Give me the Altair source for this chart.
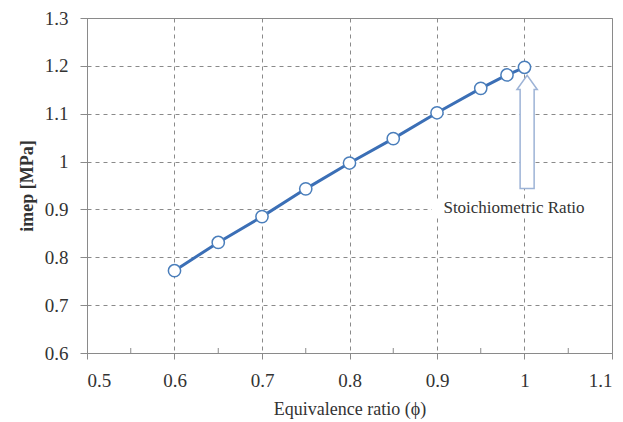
import altair as alt
import pandas as pd

phi = [0.6, 0.65, 0.7, 0.75, 0.8, 0.85, 0.9, 0.95, 0.98, 1.0]
imep = [0.772, 0.831, 0.885, 0.943, 0.997, 1.048, 1.102, 1.153, 1.181, 1.197]

minor_x = [0.55, 0.65, 0.75, 0.85, 0.95, 1.05]

arrow_x = [1.003]
arrow_y = [1.062]
note_x = [0.988]
note_y = [0.903]
note_text = ["Stoichiometric Ratio"]
note_box_x = [0.894]
note_box_x2 = [1.1]
note_box_y = [0.922]
note_box_y2 = [0.885]

df = pd.DataFrame({"phi": phi, "imep": imep})
minor_df = pd.DataFrame({"x": minor_x})
arrow_df = pd.DataFrame({"x": arrow_x, "y": arrow_y})
note_df = pd.DataFrame({"x": note_x, "y": note_y, "t": note_text})
box_df = pd.DataFrame({"x": note_box_x, "x2": note_box_x2, "y": note_box_y, "y2": note_box_y2})

W, H = 525, 335
FONT = "'Liberation Serif', 'Times New Roman', Times, 'DejaVu Serif', serif"
xs = alt.Scale(domain=[0.5, 1.1], nice=False, zero=False)
ys = alt.Scale(domain=[0.6, 1.3], nice=False, zero=False)

xax = alt.Axis(values=[0.5, 0.6, 0.7, 0.8, 0.9, 1.0, 1.1], labelExpr="datum.value == 1 ? '1' : format(datum.value, '.1f')",
               title="Equivalence ratio (ϕ)", grid=True, gridDash=[4, 4], gridColor="#8a8a8a", gridWidth=1,
               domainColor="#8a8a8a", tickColor="#8a8a8a", tickSize=6, labelPadding=12,
               labelFont=FONT, labelFontSize=19, labelColor="#333333",
               titleFont=FONT, titleFontSize=18, titleFontWeight="normal", titleColor="#333333", titlePadding=10)
yax = alt.Axis(values=[0.6, 0.7, 0.8, 0.9, 1.0, 1.1, 1.2, 1.3], labelExpr="datum.value == 1 ? '1' : format(datum.value, '.1f')",
               title="imep [MPa]", grid=True, gridDash=[4, 4], gridColor="#8a8a8a", gridWidth=1,
               domainColor="#8a8a8a", tickColor="#8a8a8a", tickSize=7, labelPadding=12,
               labelFont=FONT, labelFontSize=19, labelColor="#333333",
               titleFont=FONT, titleFontSize=18, titleFontWeight="bold", titleColor="#333333", titlePadding=8)

line = alt.Chart(df).mark_line(color="#3b6fb6", strokeWidth=3).encode(
    x=alt.X("phi:Q", scale=xs, axis=xax),
    y=alt.Y("imep:Q", scale=ys, axis=yax),
)
minor = alt.Chart(minor_df).mark_rule(color="#8a8a8a", strokeWidth=1).encode(
    x=alt.X("x:Q", scale=xs), y=alt.value(H - 5), y2=alt.value(H)
)
pts = alt.Chart(df).mark_point(shape="circle", size=150, filled=True, fill="white", stroke="#4a7ebb", strokeWidth=1.5, opacity=1).encode(
    x=alt.X("phi:Q", scale=xs), y=alt.Y("imep:Q", scale=ys)
)
arrow_path = "M -0.124 1 L -0.124 -0.75 L -0.18 -0.75 L 0 -1 L 0.18 -0.75 L 0.124 -0.75 L 0.124 1 Z"
arrow = alt.Chart(arrow_df).mark_point(shape=arrow_path, size=12769, filled=True, fill="white", stroke="#9db3d6", strokeWidth=1.5, opacity=1).encode(
    x=alt.X("x:Q", scale=xs), y=alt.Y("y:Q", scale=ys)
)
box = alt.Chart(box_df).mark_rect(color="white").encode(
    x=alt.X("x:Q", scale=xs), x2="x2:Q", y=alt.Y("y:Q", scale=ys), y2="y2:Q"
)
note = alt.Chart(note_df).mark_text(font=FONT, fontSize=17, color="#333333").encode(
    x=alt.X("x:Q", scale=xs), y=alt.Y("y:Q", scale=ys), text="t:N"
)

chart = (line + minor + box + arrow + pts + note).properties(
    width=W, height=H,
    autosize=alt.AutoSizeParams(type="none"),
    padding={"left": 79, "top": 10, "right": 3, "bottom": 75},
    background="white",
).configure_view(stroke="#8a8a8a", strokeWidth=1)

chart.save("out.html", embed_options={"renderer": "svg", "actions": False})
